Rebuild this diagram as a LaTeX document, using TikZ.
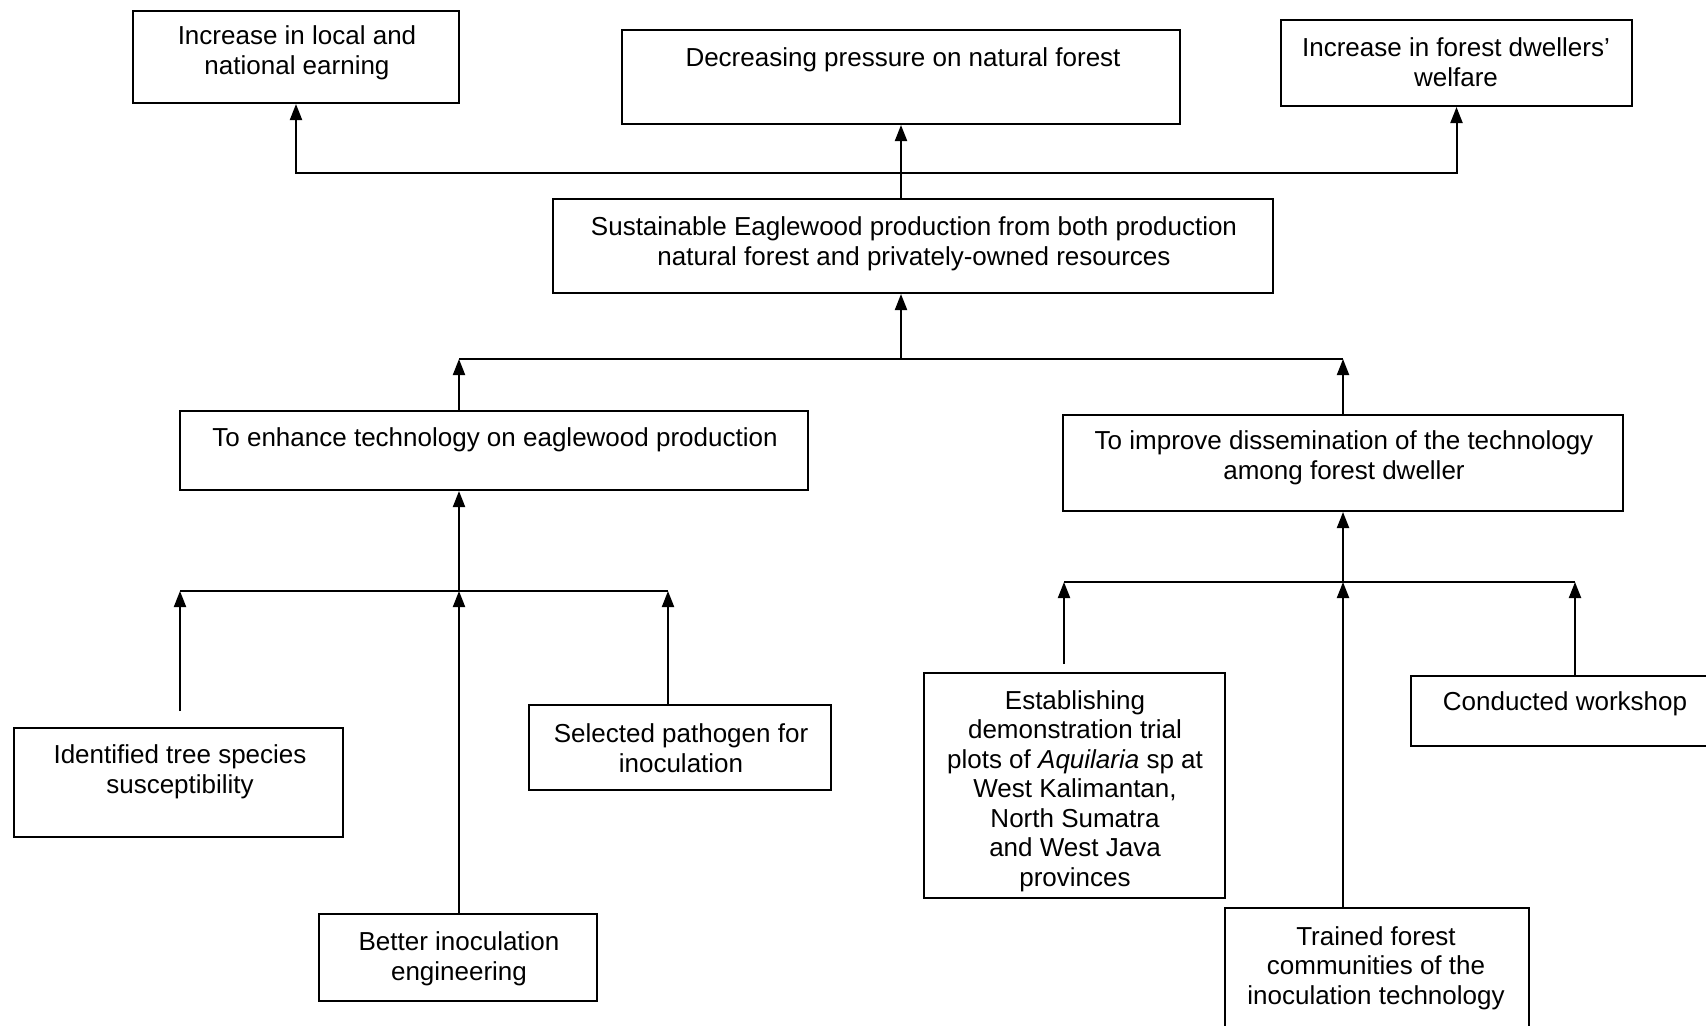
\documentclass[tikz,border=0pt]{standalone}
\usepackage{fontspec}
\setmainfont{Liberation Sans}
\usetikzlibrary{arrows.meta,fit}
\begin{document}
\begin{tikzpicture}[x=0.5pt,y=-0.5pt,
  box/.style={draw,line width=1pt,inner sep=0pt},
  txt/.style={align=center,inner sep=0pt,font=\fontsize{13}{14.75}\selectfont},
  conn/.style={line width=1pt},
  arr/.style={line width=1pt,-{Triangle[length=8pt,width=6pt]}}]
\useasboundingbox[fill=white] (0,0) rectangle (1706,1025);
\clip (0,0) rectangle (1706,1025);
% boxes
\node[box,fit={(133,11) (459,103)}] (A) {};
\node[box,fit={(622,30) (1180,124)}] (B) {};
\node[box,fit={(1281,20) (1632,106)}] (C) {};
\node[box,fit={(553,199) (1273,293)}] (D) {};
\node[box,fit={(180,411) (808,490)}] (E) {};
\node[box,fit={(1063,415) (1623,511)}] (F) {};
\node[box,fit={(14,728) (343,837)}] (G) {};
\node[box,fit={(529,705) (831,790)}] (H) {};
\node[box,fit={(319,914) (597,1001)}] (I) {};
\node[box,fit={(924,673) (1225,898)}] (J) {};
\node[box,fit={(1411,676) (1715,746)}] (K) {};
\node[box,fit={(1225,908) (1529,1040)}] (L) {};
% texts
\node[txt] (tA) at (297,53) {Increase in local and\\national earning};
\node[txt] (tB) at (903,60) {Decreasing pressure on natural forest};
\node[txt] (tC) at (1456,62) {Increase in forest dwellers'\\welfare};
\node[txt] (tD) at (914,244) {Sustainable Eaglewood production from both production\\natural forest and privately-owned resources};
\node[txt] (tE) at (495,440) {To enhance technology on eaglewood production};
\node[txt] (tF) at (1344,458) {To improve dissemination of the technology\\among forest dweller};
\node[txt] (tG) at (180,772) {Identified tree species\\susceptibility};
\node[txt] (tH) at (681,748) {Selected pathogen for\\inoculation};
\node[txt] (tI) at (459,959) {Better inoculation\\engineering};
\node[txt] (tJ) at (1075,791) {Establishing\\demonstration trial\\plots of \textit{Aquilaria} sp at\\West Kalimantan,\\North Sumatra\\and West Java\\provinces};
\node[txt] (tK) at (1565,704) {Conducted workshop};
\node[txt] (tL) at (1376,968) {Trained forest\\communities of the\\inoculation technology};
% top level connectors
\coordinate (t) at (901,173);
\draw[arr] (t) -| (A.south);
\draw[arr] (t) -| (C.south);
\draw[arr] (D.north -| t) -- (B.south -| t);
% level two
\coordinate (m) at (901,359);
\coordinate (mL) at (459,359);
\coordinate (mR) at (1343,359);
\draw[conn] (mL) -- (mR);
\draw[arr] (m) -- (D.south -| m);
\draw[arr] (E.north -| mL) -- (mL);
\draw[arr] (F.north -| mR) -- (mR);
% below E
\coordinate (eL) at (180,591);
\coordinate (eC) at (459,591);
\coordinate (eR) at (668,591);
\coordinate (gTop) at (180,711);
\draw[conn] (eL) -- (eR);
\draw[arr] (eC) -- (E.south -| eC);
\draw[arr] (gTop) -- (eL);
\draw[arr] (I.north -| eC) -- (eC);
\draw[arr] (H.north -| eR) -- (eR);
% below F
\coordinate (fL) at (1064,582);
\coordinate (fC) at (1343,582);
\coordinate (fR) at (1575,582);
\coordinate (jTop) at (1064,664);
\draw[conn] (fL) -- (fR);
\draw[arr] (fC) -- (F.south -| fC);
\draw[arr] (jTop) -- (fL);
\draw[arr] (L.north -| fC) -- (fC);
\draw[arr] (K.north -| fR) -- (fR);
\end{tikzpicture}
\end{document}
